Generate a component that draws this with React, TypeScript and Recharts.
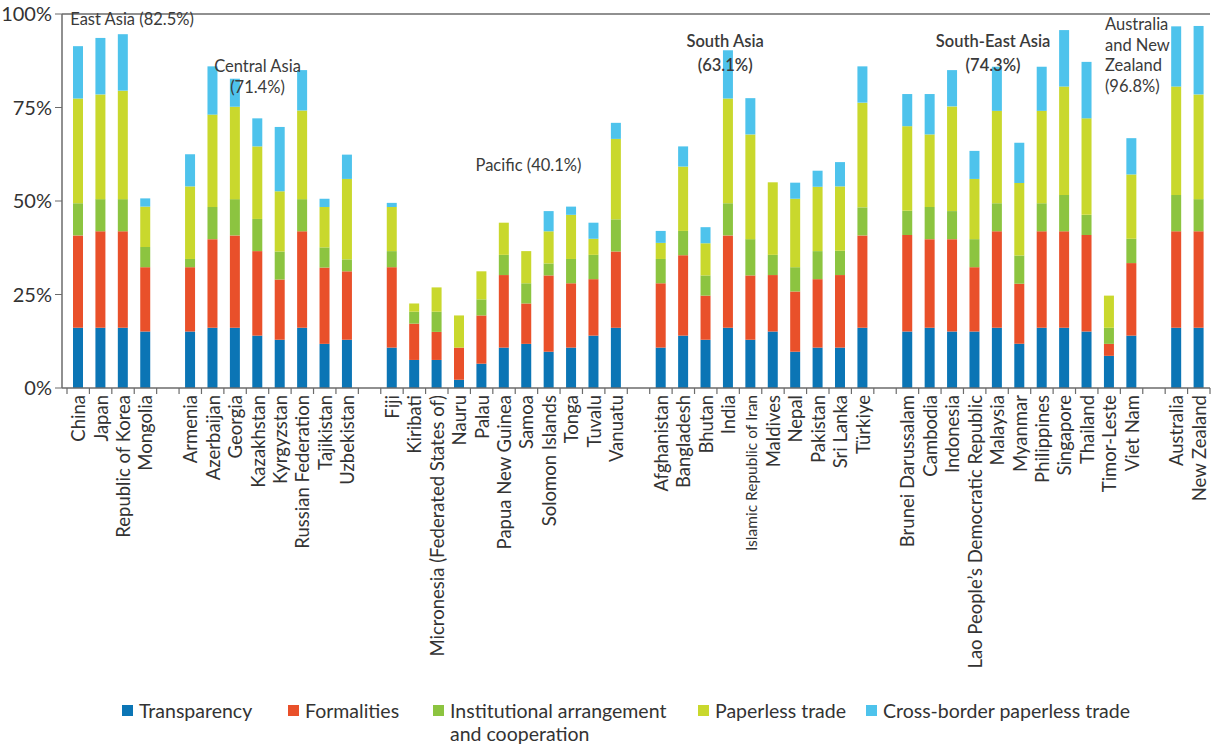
import React from 'react';
import { BarChart, Bar, XAxis, YAxis, Legend, ReferenceLine, ReferenceDot } from 'recharts';

// slots named gap-* are empty spacers between regions
const countries = [
  'China', 'Japan', 'Republic of Korea', 'Mongolia', 'gap-1',
  'Armenia', 'Azerbaijan', 'Georgia', 'Kazakhstan', 'Kyrgyzstan', 'Russian Federation', 'Tajikistan', 'Uzbekistan', 'gap-2',
  'Fiji', 'Kiribati', 'Micronesia (Federated States of)', 'Nauru', 'Palau', 'Papua New Guinea', 'Samoa', 'Solomon Islands', 'Tonga', 'Tuvalu', 'Vanuatu', 'gap-3',
  'Afghanistan', 'Bangladesh', 'Bhutan', 'India', 'Islamic Republic of Iran', 'Maldives', 'Nepal', 'Pakistan', 'Sri Lanka', 'Türkiye', 'gap-4',
  'Brunei Darussalam', 'Cambodia', 'Indonesia', 'Lao People’s Democratic Republic', 'Malaysia', 'Myanmar', 'Philippines', 'Singapore', 'Thailand', 'Timor-Leste', 'Viet Nam', 'gap-5',
  'Australia', 'New Zealand',
];

const transparency = [
  16.1, 16.1, 16.1, 15.1, null,
  15.1, 16.1, 16.1, 14.0, 12.9, 16.1, 11.8, 12.9, null,
  10.8, 7.5, 7.5, 2.2, 6.5, 10.8, 11.8, 9.7, 10.8, 14.0, 16.1, null,
  10.8, 14.0, 12.9, 16.1, 12.9, 15.1, 9.7, 10.8, 10.8, 16.1, null,
  15.1, 16.1, 15.1, 15.1, 16.1, 11.8, 16.1, 16.1, 15.1, 8.6, 14.0, null,
  16.1, 16.1,
];
const formalities = [
  24.7, 25.8, 25.8, 17.2, null,
  17.2, 23.7, 24.7, 22.6, 16.1, 25.8, 20.4, 18.3, null,
  21.5, 9.7, 7.5, 8.6, 12.9, 19.4, 10.8, 20.4, 17.2, 15.1, 20.4, null,
  17.2, 21.5, 11.8, 24.7, 17.2, 15.1, 16.1, 18.3, 19.4, 24.7, null,
  25.8, 23.7, 24.7, 17.2, 25.8, 16.1, 25.8, 25.8, 25.8, 3.2, 19.4, null,
  25.8, 25.8,
];
const institutional = [
  8.6, 8.6, 8.6, 5.4, null,
  2.2, 8.6, 9.7, 8.6, 7.5, 8.6, 5.4, 3.2, null,
  4.3, 3.2, 5.4, 0, 4.3, 5.4, 5.4, 3.2, 6.5, 6.5, 8.6, null,
  6.5, 6.5, 5.4, 8.6, 9.7, 5.4, 6.5, 7.5, 6.5, 7.5, null,
  6.5, 8.6, 7.5, 7.5, 7.5, 7.5, 7.5, 9.7, 5.4, 4.3, 6.5, null,
  9.7, 8.6,
];
const paperless = [
  28.0, 28.0, 29.0, 10.8, null,
  19.4, 24.7, 24.7, 19.4, 16.1, 23.7, 10.8, 21.5, null,
  11.8, 2.2, 6.5, 8.6, 7.5, 8.6, 8.6, 8.6, 11.8, 4.3, 21.5, null,
  4.3, 17.2, 8.6, 28.0, 28.0, 19.4, 18.3, 17.2, 17.2, 28.0, null,
  22.6, 19.4, 28.0, 16.1, 24.7, 19.4, 24.7, 29.0, 25.8, 8.6, 17.2, null,
  29.0, 28.0,
];
const crossBorder = [
  14.0, 15.1, 15.1, 2.2, null,
  8.6, 12.9, 7.5, 7.5, 17.2, 10.8, 2.2, 6.5, null,
  1.1, 0, 0, 0, 0, 0, 0, 5.4, 2.2, 4.3, 4.3, null,
  3.2, 5.4, 4.3, 12.9, 9.7, 0, 4.3, 4.3, 6.5, 9.7, null,
  8.6, 10.8, 9.7, 7.5, 11.8, 10.8, 11.8, 15.1, 15.1, 0, 9.7, null,
  16.1, 18.3,
];

const yTicks = [0, 25, 50, 75, 100];

const series = [
  { key: 'transparency', name: 'Transparency', color: '#0b75b5' },
  { key: 'formalities', name: 'Formalities', color: '#e9502a' },
  { key: 'institutional', name: 'Institutional arrangement\nand cooperation', color: '#8cc440' },
  { key: 'paperless', name: 'Paperless trade', color: '#c9d82d' },
  { key: 'crossBorder', name: 'Cross-border paperless trade', color: '#4ec3ec' },
];

const regionNotes = [
  { at: 'China', y: 98.6, lines: ['East Asia (82.5%)'], anchor: 'start', dx: -8, bold: false },
  { at: 'Kazakhstan', y: 86.0, lines: ['Central Asia', '(71.4%)'], anchor: 'middle', dx: 0, bold: false },
  { at: 'Samoa', y: 59.7, lines: ['Pacific (40.1%)'], anchor: 'middle', dx: 2, bold: false },
  { at: 'India', y: 92.7, lines: ['South Asia', '(63.1%)'], anchor: 'middle', dx: -3, bold: true },
  { at: 'Malaysia', y: 92.7, lines: ['South-East Asia', '(74.3%)'], anchor: 'middle', dx: -4, bold: true },
  { at: 'gap-5', y: 97.2, lines: ['Australia', 'and New', 'Zealand', '(96.8%)'], anchor: 'start', dx: -49, bold: false },
];

const data = countries.map((name, i) => ({
  name,
  transparency: transparency[i],
  formalities: formalities[i],
  institutional: institutional[i],
  paperless: paperless[i],
  crossBorder: crossBorder[i],
}));

const W = 1212;
const H = 747;
const FONT = 'Lato, "Open Sans", sans-serif';
const AXIS = '#6b6b6b';
const TEXT = '#333333';
const PAD_LEFT = 5;
const PLOT_LEFT = 62;
const PLOT_RIGHT = W - 2;
const STEP = (PLOT_RIGHT - PLOT_LEFT - PAD_LEFT) / countries.length;
const smallLabels = ['Islamic Republic of Iran'];

function CountryTick(props: any) {
  const { x, y, payload, index } = props;
  const name: string = payload.value;
  const last = index === countries.length - 1;
  return (
    <g>
      <line x1={x - STEP / 2} x2={x - STEP / 2} y1={y - 8} y2={y - 2} stroke={AXIS} strokeWidth={1.2} />
      {last && <line x1={x + STEP / 2} x2={x + STEP / 2} y1={y - 8} y2={y - 2} stroke={AXIS} strokeWidth={1.2} />}
      {!name.startsWith('gap') && (
        <text
          x={x}
          y={y - 1}
          transform={`rotate(-90, ${x}, ${y - 1})`}
          textAnchor="end"
          dominantBaseline="central"
          fontFamily={FONT}
          fontSize={smallLabels.includes(name) ? 15.5 : 18.5}
          fill={TEXT}
        >
          {name}
        </text>
      )}
    </g>
  );
}

function NoteShape(props: any) {
  const { cx, cy, note } = props;
  const lh = note.bold ? 24 : 20.5;
  return (
    <text
      x={cx + note.dx}
      y={cy}
      textAnchor={note.anchor}
      fontFamily={FONT}
      fontSize={16.5}
      fontWeight={note.bold ? 600 : 400}
      fill="#3a3a3a"
      dominantBaseline="central"
    >
      {note.lines.map((l: string, i: number) => (
        <tspan key={i} x={cx + note.dx} dy={i === 0 ? 0 : lh}>
          {l}
        </tspan>
      ))}
    </text>
  );
}

const legendLefts = [122, 288, 433, 698, 866];

function LegendContent() {
  return (
    <div style={{ position: 'relative', height: 46, fontFamily: FONT, fontSize: 19.5, color: TEXT }}>
      {series.map((s, i) => (
        <div key={s.key} style={{ position: 'absolute', left: legendLefts[i], top: 0, display: 'flex', alignItems: 'flex-start' }}>
          <span style={{ width: 11, height: 11, background: s.color, marginTop: 6, marginRight: 6, flex: 'none' }} />
          <span style={{ whiteSpace: 'pre', lineHeight: '23px' }}>{s.name}</span>
        </div>
      ))}
    </div>
  );
}

export default function App() {
  return (
    <div style={{ position: 'absolute', left: 0, top: 0, width: W, height: H, background: '#fff' }}>
      <BarChart width={W} height={H} data={data} margin={{ top: 14, right: 2, bottom: 2, left: 0 }} barSize={10}>
        <XAxis
          dataKey="name"
          interval={0}
          height={311}
          tick={<CountryTick />}
          tickLine={false}
          tickSize={6}
          tickMargin={2}
          padding={{ left: PAD_LEFT, right: 0 }}
          axisLine={{ stroke: AXIS, strokeWidth: 1.5 }}
        />
        <YAxis
          domain={[0, 100]}
          ticks={yTicks}
          width={PLOT_LEFT}
          tickFormatter={(v) => `${v}%`}
          tick={{ fontFamily: FONT, fontSize: 20, fill: TEXT }}
          tickLine={{ stroke: AXIS }}
          tickSize={7}
          tickMargin={3}
          axisLine={{ stroke: AXIS, strokeWidth: 1.5 }}
        />
        <YAxis yAxisId="frame" orientation="right" width={0} tick={false} tickLine={false} axisLine={{ stroke: AXIS, strokeWidth: 1.5 }} />
        <ReferenceLine y={100} stroke={AXIS} strokeWidth={1.5} />
        {series.map((s) => (
          <Bar key={s.key} dataKey={s.key} name={s.name} stackId="a" fill={s.color} isAnimationActive={false} />
        ))}
        {regionNotes.map((n, i) => (
          <ReferenceDot key={i} x={n.at} y={n.y} r={0} shape={<NoteShape note={n} />} />
        ))}
        <Legend verticalAlign="bottom" content={<LegendContent />} />
      </BarChart>
    </div>
  );
}
